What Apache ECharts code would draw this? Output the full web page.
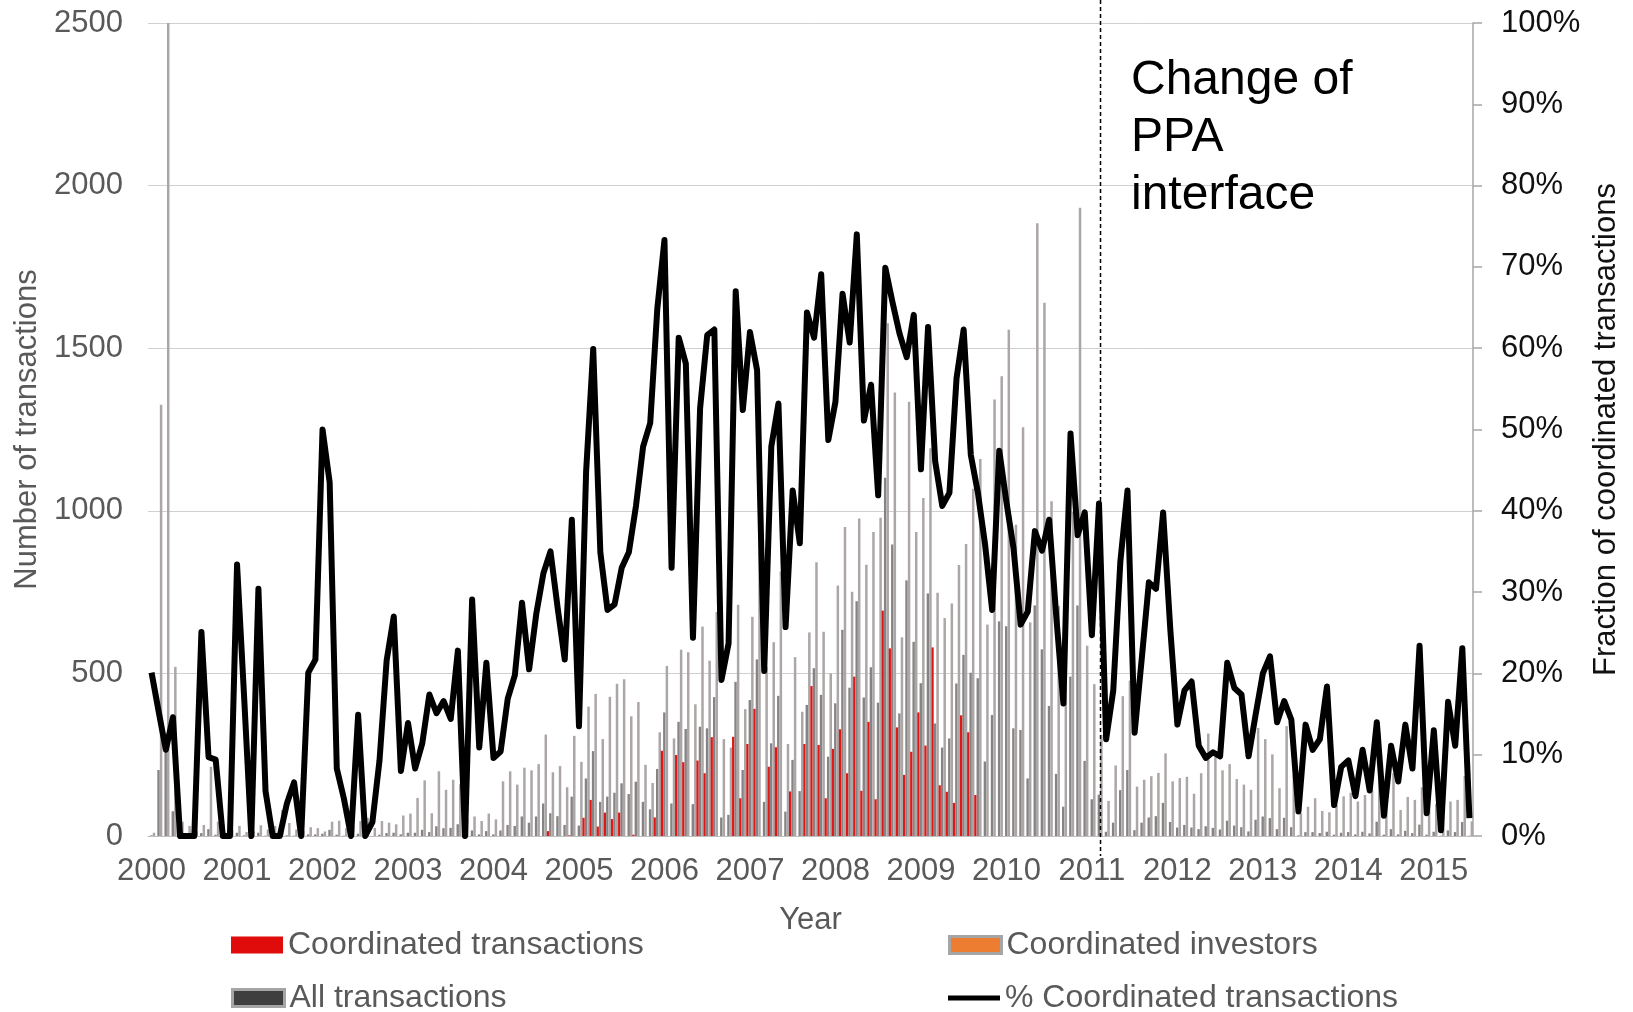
<!DOCTYPE html>
<html>
<head>
<meta charset="utf-8">
<script src="https://cdn.jsdelivr.net/npm/echarts@6/dist/echarts.min.js"></script>
<style>
  html, body { margin: 0; padding: 0; background: #ffffff; }
  #chart { width: 1633px; height: 1012px; }
</style>
</head>
<body>
<div id="chart"></div>
<script>
// Monthly PPA transaction counts, January 2000 to June 2015
const years = ['2000','2001','2002','2003','2004','2005','2006','2007','2008','2009','2010','2011','2012','2013','2014','2015'];
const monthCount = 186;

const coordinatedTransactions = [
  0,0,0,0,0,0,0,0,0,0,0,0,0,0,0,0,0,0,0,0,0,0,0,0,
  0,0,0,0,0,0,0,0,0,0,0,0,0,0,0,0,0,0,0,0,0,0,0,0,
  0,0,0,0,0,0,0,0,15,0,0,2,0,56,111,29,72,52,72,0,4,0,0,57,
  262,0,249,227,0,232,193,304,0,0,305,116,283,391,0,213,273,0,137,0,283,461,280,116,
  268,328,193,490,139,351,113,693,577,334,188,259,380,278,580,156,136,102,371,319,126,0,0,0,
  0,0,0,0,0,0,0,0,0,0,0,0,0,0,0,0,0,0,0,0,0,0,0,0,
  0,0,0,0,0,0,0,0,0,0,0,0,0,0,0,0,0,0,0,0,0,0,0,0,
  0,0,0,0,0,0,0,0,0,0,0,0,0,0,0,0,0,0
];

const coordinatedInvestors = [
  2,203,265,76,0,0,0,9,21,4,0,0,
  10,2,0,10,1,0,0,2,1,0,5,5,
  7,19,4,1,0,7,0,0,4,9,10,5,
  10,10,19,12,30,24,25,36,0,17,5,15,
  5,17,34,31,60,41,60,100,70,61,34,121,
  32,177,261,105,121,133,162,129,167,105,82,206,
  380,100,351,329,98,336,331,427,57,65,474,203,
  418,543,105,285,431,75,234,138,403,516,434,244,
  408,634,456,722,426,519,410,1102,896,377,786,597,
  470,746,346,272,300,469,557,502,485,229,372,660,
  645,331,326,177,709,574,400,191,90,490,709,231,
  113,127,13,41,141,203,18,41,57,61,102,43,
  26,34,26,21,30,25,20,47,32,27,14,50,
  60,55,21,56,27,2,12,12,9,13,4,10,
  12,5,13,8,44,4,21,5,16,9,35,4,
  13,1,17,12,43,1
];

const allTransactions = [
  10,1326,2500,520,44,31,15,34,213,44,10,18,
  31,12,15,33,20,31,80,40,20,15,27,24,
  14,44,47,24,30,46,56,25,46,41,36,63,
  69,117,171,70,199,142,173,159,55,60,46,69,
  51,168,199,158,210,202,221,312,196,215,150,308,
  228,398,437,298,428,468,482,368,412,219,163,319,
  523,300,573,565,405,644,539,689,298,272,711,390,
  674,957,520,596,813,283,550,382,626,842,628,500,
  770,950,751,976,834,935,979,1577,1364,611,1335,935,
  1039,1192,748,670,715,833,898,1068,1159,650,1342,1414,
  1557,957,1257,657,1884,1640,1029,707,552,996,1932,585,
  467,311,108,217,430,478,152,173,184,194,254,168,
  178,182,130,193,315,243,202,221,175,158,142,332,
  298,251,147,338,187,70,90,116,77,73,95,122,
  133,106,126,141,317,167,193,80,120,111,150,130,
  99,106,106,111,185,45
];

const coordinatedShare = [
  20.1,15.3,10.6,14.6,0,0,0,25.1,9.7,9.4,0,0,
  33.4,17,0,30.4,5.5,0,0,4,6.6,0,20.1,21.7,
  50,43.5,8.3,4.6,0,14.9,0,1.7,9.3,21.6,27,8,
  13.9,8.3,11.4,17.4,15.1,16.6,14.4,22.8,0,29.1,10.9,21.3,
  9.6,10.4,16.9,19.8,28.7,20.5,27.3,32.3,35,28.1,21.7,38.9,
  13.5,44.8,59.9,34.9,27.8,28.5,33,34.9,40.6,47.9,50.8,64.9,
  73.3,33,61.3,58.1,24.4,52.6,61.6,62.3,19.2,23.7,67,52.4,
  62,57.3,20.3,47.9,53.2,25.7,42.5,36,64.4,61.3,69.1,48.7,
  53.4,66.7,60.7,74,51.1,55.5,41.9,69.9,65.7,61.8,58.9,64.1,
  45.1,62.6,46.1,40.6,42.2,56.3,62.3,46.9,42.2,35.9,27.8,47.4,
  41.1,35.4,26,27.6,37.5,35.1,38.9,27,16.3,49.5,37,39.8,
  24.7,40.9,11.9,17.9,33.8,42.5,12.7,21.8,31.2,30.4,39.8,25.5,
  13.7,17.9,19,11.1,9.6,10.3,9.8,21.3,18.2,17.4,9.8,15,
  20,22.1,14,16.6,14.3,3,13.7,10.6,11.9,18.4,3.8,8.5,
  9.3,4.9,10.6,5.6,14,2.5,11.1,6.7,13.7,8.3,23.4,2.8,
  13,0.7,16.5,11.1,23.1,2.2
];

const countTicks = { min: 0, max: 2500, interval: 500 };
const shareTicks = { min: 0, max: 100, interval: 10 };
const interfaceChange = '2011-02';

// month categories built from the year list
const months = [];
years.forEach(function (y) {
  for (let m = 1; m <= 12; m++) months.push(y + '-' + (m < 10 ? '0' + m : m));
});
const categories = months.slice(0, monthCount);

const FONT = "'Liberation Sans', Arial, sans-serif";
const GREY_TEXT = '#595959';

const chart = echarts.init(document.getElementById('chart'), null, { renderer: 'canvas' });

function legendBox(left, top, item, icon, h) {
  return {
    left: left, top: top, padding: 0, icon: icon,
    itemWidth: 52, itemHeight: h, selectedMode: false,
    textStyle: { color: GREY_TEXT, fontSize: 32, fontFamily: FONT, lineHeight: 32 },
    data: [item]
  };
}

chart.setOption({
  backgroundColor: '#ffffff',
  animation: false,
  grid: { left: 148, right: 160, top: 23, bottom: 176, containLabel: false },
  legend: [
    legendBox(231, 929, { name: 'Coordinated transactions', itemStyle: { color: '#e00b0b', borderWidth: 0 } }, 'rect', 17),
    legendBox(948, 929, { name: 'Coordinated investors', itemStyle: { color: '#ed7d31', borderColor: '#a5a5a5', borderWidth: 3 } }, 'rect', 17),
    legendBox(231, 982, { name: 'All transactions', itemStyle: { color: '#3f3f3f', borderColor: '#a5a5a5', borderWidth: 3 } }, 'rect', 17),
    legendBox(948, 982, { name: '% Coordinated transactions', itemStyle: { color: '#000000', borderWidth: 0 } }, 'rect', 5)
  ],
  xAxis: {
    type: 'category',
    data: categories,
    boundaryGap: true,
    axisLine: { show: true, lineStyle: { color: '#bfbfbf', width: 1 } },
    axisTick: { show: false },
    axisLabel: {
      interval: 11,
      formatter: function (v) { return v.slice(0, 4); },
      color: GREY_TEXT, fontSize: 31, fontFamily: FONT, margin: 20
    },
    splitLine: { show: false },
    name: 'Year', nameLocation: 'middle', nameGap: 69,
    nameTextStyle: { color: GREY_TEXT, fontSize: 31, fontFamily: FONT }
  },
  yAxis: [
    {
      type: 'value', min: countTicks.min, max: countTicks.max, interval: countTicks.interval,
      axisLine: { show: false }, axisTick: { show: false },
      axisLabel: {
        formatter: function (v) { return String(v); },
        color: GREY_TEXT, fontSize: 31, fontFamily: FONT, margin: 25
      },
      splitLine: { show: true, lineStyle: { color: '#d0d0d0', width: 1 } },
      name: 'Number of transactions', nameLocation: 'middle', nameGap: 96, nameRotate: 90,
      nameTextStyle: { color: GREY_TEXT, fontSize: 31, fontFamily: FONT }
    },
    {
      type: 'value', position: 'right', min: shareTicks.min, max: shareTicks.max, interval: shareTicks.interval,
      axisLine: { show: true, lineStyle: { color: '#a6a6a6', width: 1.5 } },
      axisTick: { show: true, inside: false, length: 9, lineStyle: { color: '#a6a6a6', width: 1.5 } },
      axisLabel: { formatter: '{value}%', color: '#111111', fontSize: 31, fontFamily: FONT, margin: 28 },
      splitLine: { show: false },
      name: 'Fraction of coordinated transactions', nameLocation: 'middle', nameGap: 115, nameRotate: 90,
      nameTextStyle: { color: '#111111', fontSize: 31, fontFamily: FONT }
    }
  ],
  series: [
    {
      name: 'Coordinated transactions', type: 'bar', data: coordinatedTransactions,
      barWidth: 2.2, barGap: '5%', itemStyle: { color: '#e01717' }, z: 3
    },
    {
      name: 'Coordinated investors', type: 'bar', data: coordinatedInvestors,
      barWidth: 2.4, barGap: '5%', itemStyle: { color: '#858383' }, z: 2
    },
    {
      name: 'All transactions', type: 'bar', data: allTransactions,
      barWidth: 2.5, barGap: '5%', itemStyle: { color: '#aca6a6' }, z: 2
    },
    {
      name: '% Coordinated transactions', type: 'line', yAxisIndex: 1, data: coordinatedShare,
      showSymbol: false, symbol: 'none',
      lineStyle: { color: '#000000', width: 6, join: 'round' },
      itemStyle: { color: '#000000' }, z: 10
    }
  ]
});

// dashed marker for the interface change, plus its caption
const xChange = chart.convertToPixel({ xAxisIndex: 0 }, interfaceChange);
chart.setOption({
  graphic: [
    {
      type: 'line', z: 20,
      shape: { x1: xChange + 1.5, y1: 0, x2: xChange + 1.5, y2: 856 },
      style: { stroke: '#000000', lineWidth: 1.5, lineDash: [4, 3] }
    },
    {
      type: 'text', z: 20, left: 1131, top: 52,
      style: {
        text: 'Change of\nPPA\ninterface',
        font: "48px 'Liberation Sans', Arial, sans-serif",
        lineHeight: 57.5, fill: '#000000'
      }
    }
  ]
});
</script>
</body>
</html>
